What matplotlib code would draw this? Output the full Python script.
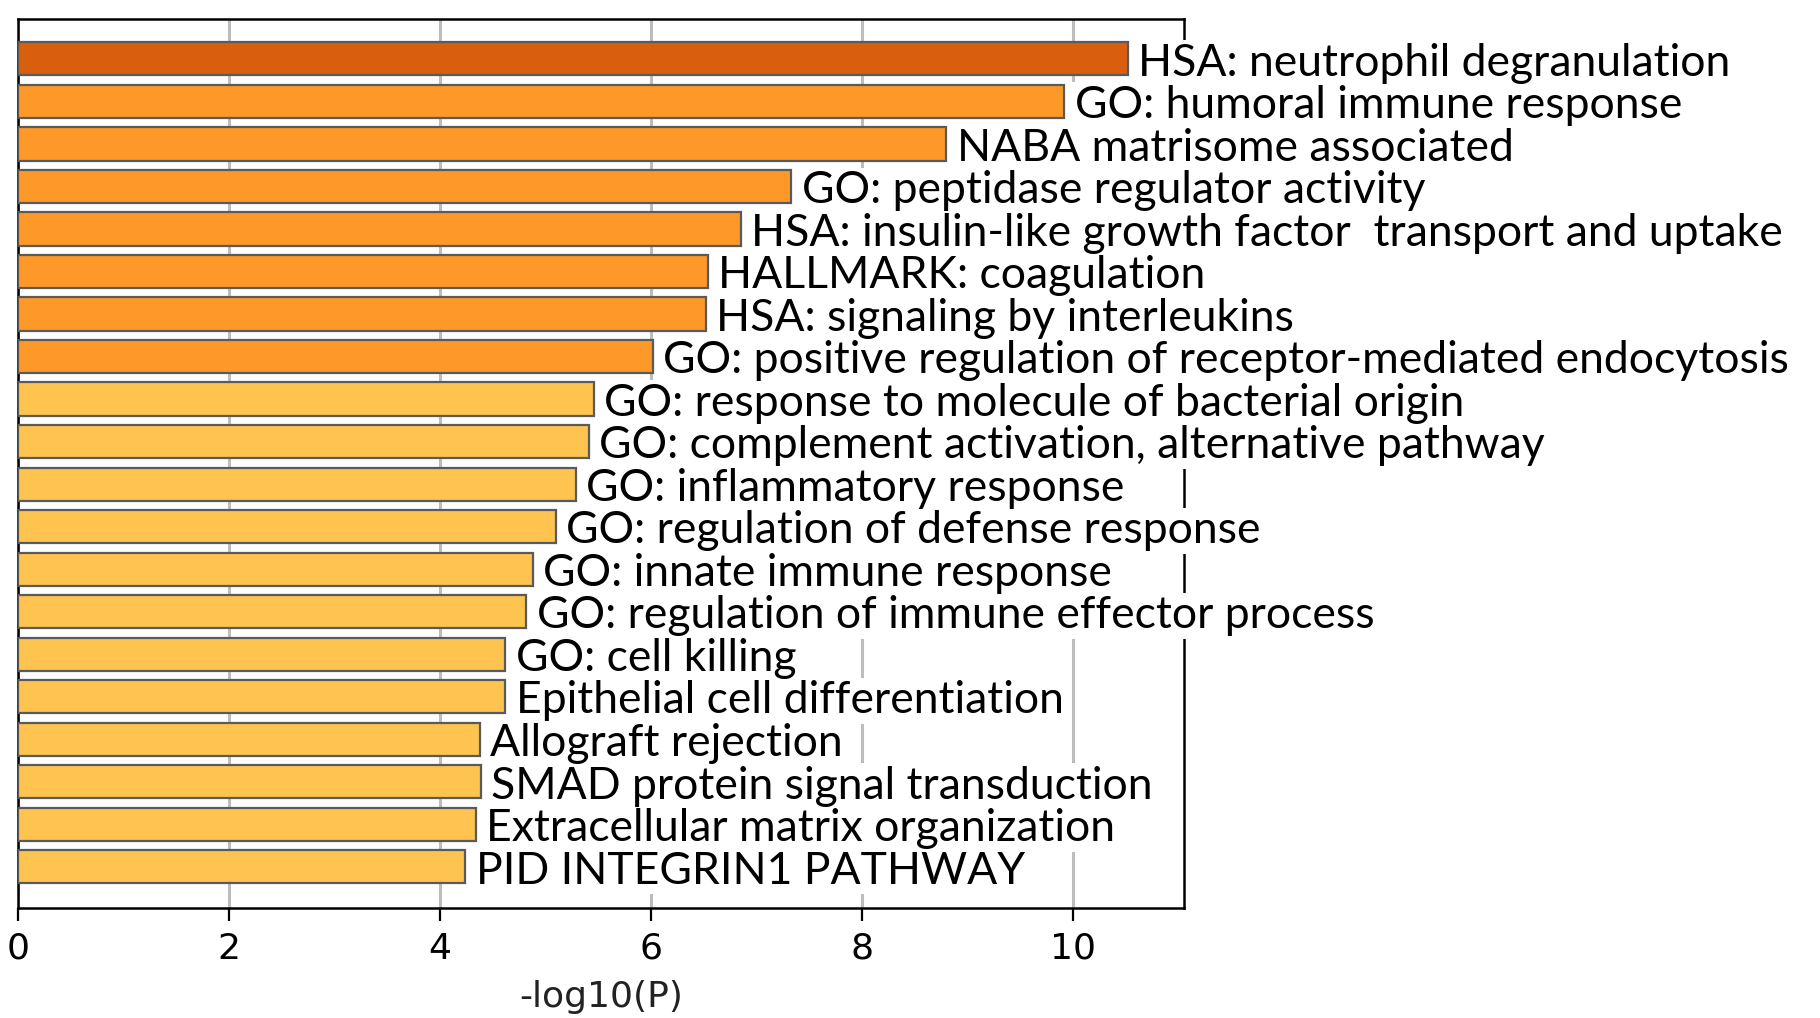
import matplotlib
matplotlib.use("Agg")
import matplotlib.pyplot as plt

labels = [
    "HSA: neutrophil degranulation",
    "GO: humoral immune response",
    "NABA matrisome associated",
    "GO: peptidase regulator activity",
    "HSA: insulin-like growth factor  transport and uptake",
    "HALLMARK: coagulation",
    "HSA: signaling by interleukins",
    "GO: positive regulation of receptor-mediated endocytosis",
    "GO: response to molecule of bacterial origin",
    "GO: complement activation, alternative pathway",
    "GO: inflammatory response",
    "GO: regulation of defense response",
    "GO: innate immune response",
    "GO: regulation of immune effector process",
    "GO: cell killing",
    "Epithelial cell differentiation",
    "Allograft rejection",
    "SMAD protein signal transduction",
    "Extracellular matrix organization",
    "PID INTEGRIN1 PATHWAY",
]
values = [10.52, 9.92, 8.80, 7.33, 6.85, 6.54, 6.52, 6.02, 5.46, 5.41,
          5.29, 5.10, 4.88, 4.82, 4.62, 4.62, 4.38, 4.39, 4.34, 4.24]
colors = ["#D95F0E"] + ["#FE9929"] * 7 + ["#FEC44F"] * 12
xticks = [0, 2, 4, 6, 8, 10]
xlabel = "-log10(P)"

tick_family = ["DejaVu Sans"]

fig = plt.figure(figsize=(18.2, 10.18), dpi=100)
ax = fig.add_axes([0.0097, 0.108, 0.6407, 0.873])

ypos = list(range(len(values)))
ax.barh(ypos, values, height=0.78, color=colors, edgecolor="#5a5a5a",
        linewidth=1.6, zorder=3)

ax.set_xlim(0, 11.05)
ax.set_ylim(len(values) - 1 + 0.97, -0.93)
ax.set_yticks([])
ax.set_xticks(xticks)
ax.set_xticklabels([str(t) for t in xticks], fontsize=26, family=tick_family)
ax.tick_params(axis="x", direction="out", length=9, width=1.6, pad=8,
               colors="black")
ax.set_axisbelow(True)
ax.grid(axis="x", color="#bdbdbd", linewidth=2.2, zorder=0)
ax.grid(axis="y", visible=False)
for s in ax.spines.values():
    s.set_linewidth(1.8)
    s.set_color("black")
    s.set_zorder(2.5)
ax.set_xlabel(xlabel, fontsize=26, family=tick_family,
              labelpad=10, color="#222222")

for y, v, lab in zip(ypos, values, labels):
    ax.text(v + 0.1, y + 0.1, lab, fontsize=32, family="Lato", va="center",
            ha="left", color="none", clip_on=False, zorder=2.7,
            bbox=dict(facecolor="white", edgecolor="none", pad=2))
for y, v, lab in zip(ypos, values, labels):
    ax.text(v + 0.1, y + 0.1, lab, fontsize=32, family="Lato", va="center",
            ha="left", color="black", clip_on=False, zorder=4)

fig.savefig("out.png", dpi=100, facecolor="white")
